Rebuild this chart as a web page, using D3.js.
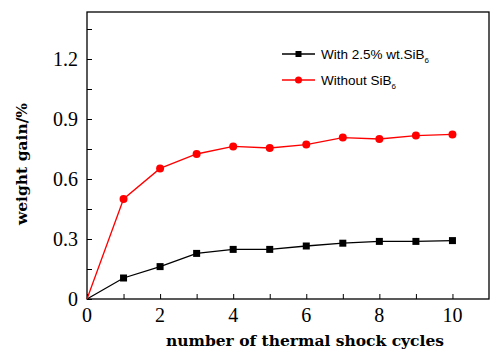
<!DOCTYPE html>
<html>
<head>
<meta charset="utf-8">
<script src="https://cdn.jsdelivr.net/npm/d3@7"></script>
<style>
  body { margin: 0; background: #fff; }
  svg text { font-family: "Liberation Serif", "DejaVu Serif", serif; }
  .legend text { font-family: "Liberation Sans", Arial, sans-serif; }
  .title { font-family: "DejaVu Serif", serif !important; }
</style>
</head>
<body>
<div id="chart"></div>
<script>
const cycles = [0, 1, 2, 3, 4, 5, 6, 7, 8, 9, 10];
const withSiB6 = [0, 0.105, 0.162, 0.228, 0.248, 0.248, 0.265, 0.279, 0.288, 0.288, 0.292];
const withoutSiB6 = [0, 0.50, 0.653, 0.725, 0.763, 0.755, 0.772, 0.807, 0.80, 0.817, 0.823];
const xTicks = [0, 2, 4, 6, 8, 10];
const yTicks = [0, 0.3, 0.6, 0.9, 1.2];

const width = 490, height = 350;
const margin = {top: 12, right: 1, bottom: 51, left: 87};

const svg = d3.select("#chart").append("svg")
    .attr("width", width)
    .attr("height", height);

const x = d3.scaleLinear().domain([0, 11]).range([margin.left, width - margin.right]);
const y = d3.scaleLinear().domain([0, 1.435]).range([height - margin.bottom, margin.top]);

// frame
svg.append("rect")
    .attr("x", x(0)).attr("y", y(1.435))
    .attr("width", x(11) - x(0)).attr("height", y(0) - y(1.435))
    .attr("fill", "none").attr("stroke", "#000").attr("stroke-width", 1.3);

// ticks (inside)
const xAxis = svg.append("g").attr("transform", "translate(0," + y(0) + ")")
    .call(d3.axisTop(x).tickValues(d3.range(0, 11, 1)).tickSize(5).tickFormat(""));
const yAxis = svg.append("g").attr("transform", "translate(" + x(0) + ",0)")
    .call(d3.axisRight(y).tickValues(d3.range(0, 1.44, 0.15)).tickSize(5).tickFormat(""));
[xAxis, yAxis].forEach(a => {
    a.select(".domain").remove();
    a.selectAll("line").attr("stroke", "#000").attr("stroke-width", 1);
});

// tick labels
svg.append("g").selectAll("text")
    .data(xTicks).enter().append("text")
    .attr("x", d => x(d)).attr("y", y(0) + 23)
    .attr("text-anchor", "middle")
    .attr("font-size", 20)
    .text(d => d);

svg.append("g").selectAll("text")
    .data(yTicks).enter().append("text")
    .attr("x", x(0) - 9).attr("y", d => y(d) + 7)
    .attr("text-anchor", "end")
    .attr("font-size", 20)
    .text(d => d === 0 ? "0" : d.toFixed(1));

// axis titles
svg.append("text").attr("class", "title")
    .attr("x", 305).attr("y", 346)
    .attr("text-anchor", "middle")
    .attr("font-size", 15.5).attr("font-weight", "bold")
    .text("number of thermal shock cycles");

svg.append("text").attr("class", "title")
    .attr("transform", "translate(27,164) rotate(-90)")
    .attr("text-anchor", "middle")
    .attr("font-size", 15.5).attr("font-weight", "bold")
    .text("weight gain/%");

// series
const line = d3.line().x((d, i) => x(cycles[i])).y(d => y(d));

svg.append("path").datum(withSiB6)
    .attr("d", line).attr("fill", "none").attr("stroke", "#000").attr("stroke-width", 1.3);
svg.append("path").datum(withoutSiB6)
    .attr("d", line).attr("fill", "none").attr("stroke", "#ff0000").attr("stroke-width", 1.3);

svg.append("g").selectAll("rect")
    .data(withSiB6.slice(1)).enter().append("rect")
    .attr("x", (d, i) => x(cycles[i + 1]) - 3.5)
    .attr("y", d => y(d) - 3.5)
    .attr("width", 7).attr("height", 7)
    .attr("fill", "#000");

svg.append("g").selectAll("circle")
    .data(withoutSiB6.slice(1)).enter().append("circle")
    .attr("cx", (d, i) => x(cycles[i + 1]))
    .attr("cy", d => y(d))
    .attr("r", 4)
    .attr("fill", "#ff0000");

// legend
const legend = svg.append("g").attr("class", "legend");
const legendItems = [
    {label: "With 2.5% wt.SiB", color: "#000", shape: "square", ly: 54},
    {label: "Without SiB", color: "#ff0000", shape: "circle", ly: 80}
];
legendItems.forEach(it => {
    legend.append("line")
        .attr("x1", 282).attr("x2", 315).attr("y1", it.ly).attr("y2", it.ly)
        .attr("stroke", it.color).attr("stroke-width", 1.3);
    if (it.shape === "square") {
        legend.append("rect").attr("x", 295.5).attr("y", it.ly - 3).attr("width", 6).attr("height", 6).attr("fill", it.color);
    } else {
        legend.append("circle").attr("cx", 298.5).attr("cy", it.ly).attr("r", 3.5).attr("fill", it.color);
    }
    const t = legend.append("text")
        .attr("x", 321).attr("y", it.ly + 5)
        .attr("font-size", 13.5);
    t.append("tspan").text(it.label);
    t.append("tspan").attr("font-size", 8).attr("dy", 4).text("6");
});
</script>
</body>
</html>
